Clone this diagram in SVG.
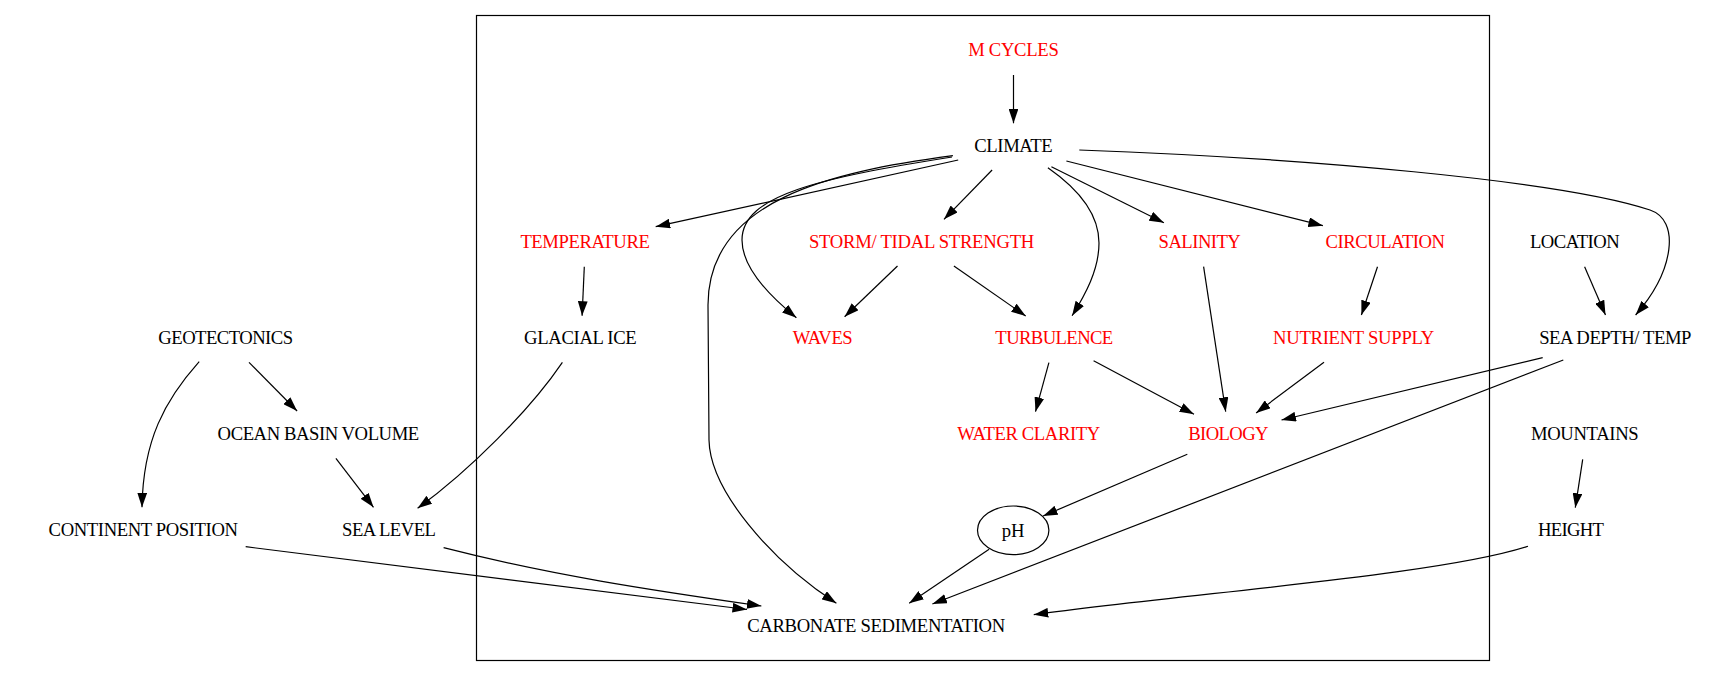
<svg xmlns="http://www.w3.org/2000/svg" width="1735" height="677" viewBox="0 0 1735 677">
<style>
text{font-family:"Liberation Serif","Times New Roman",serif;font-size:18.67px;text-anchor:middle;fill:#000}
.r{fill:#ff0000}
.e{fill:none;stroke:#000;stroke-width:1.2px}
.c{fill:none;stroke:#000;stroke-width:1.2px}
</style>
<defs>
<marker id="ah" viewBox="0 0 14.5 9.8" refX="14.5" refY="4.9" markerWidth="14.5" markerHeight="9.8" markerUnits="userSpaceOnUse" orient="auto">
<path d="M0,0 L14.5,4.9 L0,9.8 z" fill="#000"/>
</marker>
</defs>
<rect width="1735" height="677" fill="#fff"/>
<rect id="cluster" x="476.5" y="15.5" width="1013" height="645" class="c"/>

<g id="edges" class="e" marker-end="url(#ah)">
<path d="M1013.5,75 L1013.5,123.3"/>
<path d="M958.2,160 L655.7,226.7"/>
<path d="M952.9,155.7 C830,172 708,200 708,305 L709,440 C710,490 770,560 836.4,603.3"/>
<path d="M952,157 C820,178 742,195 742,240 C742,268 772,298 796.4,317.7"/>
<path d="M992.1,170 L944,219.3"/>
<path d="M1047.9,167.7 C1080,190 1099,215 1099,243 C1099,270 1085,295 1072.1,315.7"/>
<path d="M1051.4,166.7 L1163.9,222.7"/>
<path d="M1066.4,161 L1322.9,225.7"/>
<path d="M1079.3,150 C1300,158 1560,180 1650,210 C1680,220 1675,270 1635.6,315"/>
<path d="M584.3,266.7 L582.1,315.7"/>
<path d="M897.5,266 L844.6,316.7"/>
<path d="M953.9,266 L1025.7,316"/>
<path d="M1203.6,266.7 L1225.7,411.7"/>
<path d="M1377.5,266.7 L1361.4,315"/>
<path d="M1584.6,266.7 L1605.5,315"/>
<path d="M199.2,361.7 C165,400 143,440 142,507.3"/>
<path d="M249,362.3 L297.1,411"/>
<path d="M562.4,362.3 C530,410 470,470 417.6,508.3"/>
<path d="M1048.9,362.7 L1035.5,411.7"/>
<path d="M1093.6,360.7 L1194,414.3"/>
<path d="M1324,362.3 L1256.1,413"/>
<path d="M1542.7,357.7 L1281.5,420"/>
<path d="M1563.3,360 L932.4,604"/>
<path d="M335.9,458.3 L373.5,507.3"/>
<path d="M1187.3,454.3 L1043.1,516"/>
<path d="M1582.7,459.3 L1575.3,507.7"/>
<path d="M245.7,546.7 L747,609.5"/>
<path d="M443.6,547.7 C550,575 650,590 761.4,606"/>
<path d="M989.1,549.3 L909.2,603.3"/>
<path d="M1528,546.3 C1440,575 1200,592 1033.75,614.7"/>
</g>

<g id="mcycles"><text x="1013.5" y="56" class="r" textLength="90.6" lengthAdjust="spacing">M CYCLES</text></g>
<g id="climate"><text x="1013.5" y="152.3" textLength="78.4" lengthAdjust="spacing">CLIMATE</text></g>
<g id="temperature"><text x="585.1" y="248.3" class="r" textLength="129.4" lengthAdjust="spacing">TEMPERATURE</text></g>
<g id="storm"><text x="921.6" y="248.3" class="r" textLength="225.3" lengthAdjust="spacing">STORM/ TIDAL STRENGTH</text></g>
<g id="salinity"><text x="1199.7" y="248.3" class="r" textLength="82.3" lengthAdjust="spacing">SALINITY</text></g>
<g id="circulation"><text x="1385.3" y="248.3" class="r" textLength="119.5" lengthAdjust="spacing">CIRCULATION</text></g>
<g id="location"><text x="1574.8" y="248.3" textLength="89.8" lengthAdjust="spacing">LOCATION</text></g>
<g id="geotectonics"><text x="225.7" y="344" textLength="134.7" lengthAdjust="spacing">GEOTECTONICS</text></g>
<g id="glacialice"><text x="580.4" y="344" textLength="112.7" lengthAdjust="spacing">GLACIAL ICE</text></g>
<g id="waves"><text x="822.7" y="344" class="r" textLength="60" lengthAdjust="spacing">WAVES</text></g>
<g id="turbulence"><text x="1054.3" y="344" class="r" textLength="117.9" lengthAdjust="spacing">TURBULENCE</text></g>
<g id="nutrient"><text x="1353.6" y="344" class="r" textLength="161.2" lengthAdjust="spacing">NUTRIENT SUPPLY</text></g>
<g id="seadepth"><text x="1615.3" y="344" textLength="152.3" lengthAdjust="spacing">SEA DEPTH/ TEMP</text></g>
<g id="oceanbasin"><text x="318.4" y="440.3" textLength="201.6" lengthAdjust="spacing">OCEAN BASIN VOLUME</text></g>
<g id="waterclarity"><text x="1028.8" y="440" class="r" textLength="142.9" lengthAdjust="spacing">WATER CLARITY</text></g>
<g id="biology"><text x="1228.4" y="440" class="r" textLength="80.4" lengthAdjust="spacing">BIOLOGY</text></g>
<g id="mountains"><text x="1584.8" y="440" textLength="107.7" lengthAdjust="spacing">MOUNTAINS</text></g>
<g id="continent"><text x="143.3" y="536" textLength="189.4" lengthAdjust="spacing">CONTINENT POSITION</text></g>
<g id="sealevel"><text x="389" y="536" textLength="93.9" lengthAdjust="spacing">SEA LEVEL</text></g>
<g id="ph"><ellipse cx="1013.2" cy="530.3" rx="35.7" ry="24.3" fill="none" stroke="#000" stroke-width="1.2"/><text x="1013.2" y="536.8">pH</text></g>
<g id="height"><text x="1571" y="536" textLength="66" lengthAdjust="spacing">HEIGHT</text></g>
<g id="carbonate"><text x="876.2" y="631.7" textLength="258" lengthAdjust="spacing">CARBONATE SEDIMENTATION</text></g>
</svg>
